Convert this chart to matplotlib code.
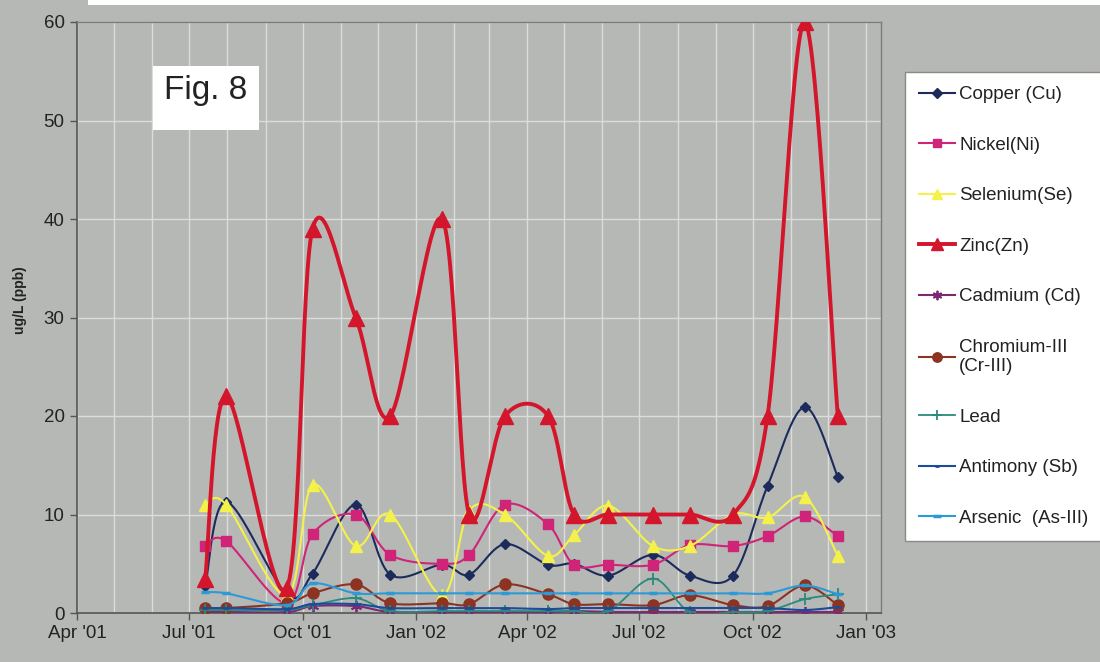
import matplotlib
matplotlib.use("Agg")
import matplotlib.pyplot as plt
import matplotlib.dates as mdates
from matplotlib.patches import Rectangle
import numpy as np
import datetime as dt

plt.rcParams['font.family'] = ['Liberation Sans', 'DejaVu Sans']

# sampling dates
sample_dates = [dt.date(2001, 7, 14), dt.date(2001, 7, 31), dt.date(2001, 9, 18),
                dt.date(2001, 10, 9), dt.date(2001, 11, 13), dt.date(2001, 12, 11),
                dt.date(2002, 1, 22), dt.date(2002, 2, 13), dt.date(2002, 3, 14),
                dt.date(2002, 4, 18), dt.date(2002, 5, 9), dt.date(2002, 6, 6),
                dt.date(2002, 7, 12), dt.date(2002, 8, 11), dt.date(2002, 9, 15),
                dt.date(2002, 10, 13), dt.date(2002, 11, 12), dt.date(2002, 12, 9)]

# concentrations, ug/L
copper = [2.7, 11.3, 1.9, 4.0, 11.0, 3.9, 4.9, 3.9, 7.0, 4.9, 5.0, 3.8, 5.9, 3.8, 3.8, 12.9, 20.9, 13.8]
nickel = [6.8, 7.3, 1.0, 8.0, 10.0, 5.9, 5.0, 5.9, 11.0, 9.0, 4.9, 4.9, 4.9, 6.9, 6.8, 7.8, 9.8, 7.8]
selenium = [11.0, 11.0, 1.8, 13.0, 6.8, 10.0, 1.8, 10.4, 10.0, 5.8, 7.9, 10.9, 6.8, 6.8, 10.0, 9.7, 11.8, 5.8]
zinc = [3.5, 22.0, 2.5, 39.0, 30.0, 20.0, 40.0, 10.0, 20.0, 20.0, 10.0, 10.0, 10.0, 10.0, 10.0, 20.0, 60.0, 20.0]
cadmium = [0.1, 0.1, 0.1, 0.7, 0.7, 0.1, 0.1, 0.1, 0.1, 0.1, 0.2, 0.1, 0.1, 0.1, 0.1, 0.1, 0.1, 0.1]
chromium = [0.5, 0.5, 1.0, 2.0, 2.9, 1.0, 1.0, 0.9, 2.9, 1.9, 0.9, 0.9, 0.8, 1.8, 0.8, 0.7, 2.8, 0.8]
lead = [0.3, 0.3, 0.3, 0.8, 1.5, 0.2, 0.2, 0.2, 0.2, 0.2, 0.2, 0.2, 3.5, 0.1, 0.1, 0.2, 1.4, 1.9]
antimony = [0.5, 0.5, 0.4, 0.9, 0.9, 0.5, 0.5, 0.5, 0.5, 0.4, 0.5, 0.5, 0.5, 0.5, 0.5, 0.5, 0.3, 0.6]
arsenic = [2.1, 2.0, 0.8, 3.0, 2.0, 2.0, 2.0, 2.0, 2.0, 2.0, 2.0, 2.0, 2.0, 2.0, 2.0, 2.0, 2.8, 1.9]

labels = ['Copper (Cu)', 'Nickel(Ni)', 'Selenium(Se)', 'Zinc(Zn)', 'Cadmium (Cd)',
          'Chromium-III\n(Cr-III)', 'Lead', 'Antimony (Sb)', 'Arsenic  (As-III)']

bg = '#b6b8b5'


def smooth(xs, ys, n=30):
    # bezier smoothing through every point, like a spreadsheet "smoothed line"
    x = np.asarray(xs, float)
    y = np.asarray(ys, float)
    px = np.concatenate([[x[0]], x, [x[-1]]])
    py = np.concatenate([[y[0]], y, [y[-1]]])
    t = np.linspace(0, 1, n)
    sx, sy = [], []
    for i in range(1, len(px) - 2):
        x0, x1, x2, x3 = px[i - 1:i + 3]
        y0, y1, y2, y3 = py[i - 1:i + 3]
        c1x, c1y = x1 + (x2 - x0) / 6, y1 + (y2 - y0) / 6
        c2x, c2y = x2 - (x3 - x1) / 6, y2 - (y3 - y1) / 6
        bx = (1 - t)**3 * x1 + 3 * (1 - t)**2 * t * c1x + 3 * (1 - t) * t**2 * c2x + t**3 * x2
        by = (1 - t)**3 * y1 + 3 * (1 - t)**2 * t * c1y + 3 * (1 - t) * t**2 * c2y + t**3 * y2
        sx.extend(bx)
        sy.extend(by)
    return np.array(sx), np.array(sy)


fig = plt.figure(figsize=(11, 6.62), dpi=100, facecolor=bg)
ax = fig.add_axes([77 / 1100, 1 - 613 / 662, 804 / 1100, 591 / 662])
ax.set_facecolor(bg)

xnum = mdates.date2num(sample_dates)

series = [
    (copper, dict(color='#1d2b5c', lw=1.5, marker='D', ms=5.5)),
    (nickel, dict(color='#cf2478', lw=1.5, marker='s', ms=7)),
    (selenium, dict(color='#f4f24a', lw=1.5, marker='^', ms=8)),
    (zinc, dict(color='#d3162c', lw=2.8, marker='^', ms=11)),
    (cadmium, dict(color='#7b2a72', lw=1.5, marker=(6, 2, 0), ms=8, mew=1.3)),
    (chromium, dict(color='#8c3322', lw=1.5, marker='o', ms=8)),
    (lead, dict(color='#2b8a7c', lw=1.3, marker='+', ms=9, mew=1.3)),
    (antimony, dict(color='#1c4b9c', lw=1.5, marker='_', ms=4, mew=2)),
    (arsenic, dict(color='#2c9ad6', lw=1.5, marker='_', ms=6, mew=2.5)),
]

handles = []
for i, (vals, st) in enumerate(series):
    sx, sy = smooth(xnum, vals)
    ax.plot(sx, sy, color=st['color'], lw=st['lw'], zorder=3 + i, solid_capstyle='round')
    ax.plot(xnum, vals, ls='none', marker=st['marker'], ms=st['ms'],
            color=st['color'], mec=st['color'], mew=st.get('mew', 1), zorder=3 + i)
    h, = ax.plot([], [], color=st['color'], lw=st['lw'], marker=st['marker'],
                 ms=st['ms'] * 0.85, mec=st['color'], mew=st.get('mew', 1))
    handles.append(h)

ax.set_xlim(dt.date(2001, 4, 1), dt.date(2003, 1, 13))
ax.set_ylim(0, 60)
ax.set_yticks(range(0, 61, 10))
ax.xaxis.set_major_locator(mdates.MonthLocator(bymonth=[1, 4, 7, 10]))
ax.xaxis.set_minor_locator(mdates.MonthLocator())
ax.xaxis.set_major_formatter(mdates.DateFormatter("%b '%y"))

ax.grid(axis='x', which='both', color='#dcdddb', lw=1.0, zorder=0)
ax.grid(axis='y', which='major', color='#dcdddb', lw=1.0, zorder=0)
ax.set_axisbelow(True)

ax.tick_params(axis='both', which='major', direction='out', length=5, width=1,
               color='#555555', labelsize=13.5, labelcolor='#222222', pad=4)
ax.tick_params(axis='x', which='minor', length=0)
for s in ['left', 'bottom']:
    ax.spines[s].set_color('#555555')
    ax.spines[s].set_linewidth(1.2)
for s in ['top', 'right']:
    ax.spines[s].set_color('#7c7d7b')
    ax.spines[s].set_linewidth(1.0)

ax.set_ylabel('ug/L (ppb)', fontsize=10, fontweight='bold', color='#222222')
ax.yaxis.set_label_coords(-0.062, 0.53)

leg = fig.legend(handles, labels, loc='upper left',
                 bbox_to_anchor=(905 / 1100, 1 - 72 / 662),
                 fontsize=13.5, labelspacing=1.78, handlelength=1.9,
                 handletextpad=0.25, borderpad=0.75, borderaxespad=0,
                 fancybox=False, framealpha=1, numpoints=1)
leg.get_frame().set_facecolor('white')
leg.get_frame().set_edgecolor('#8a8a8a')
for t in leg.get_texts():
    t.set_color('#222222')

# figure label box
fig.patches.append(Rectangle((153 / 1100, 1 - 130 / 662), 106 / 1100, 64 / 662,
                             transform=fig.transFigure, facecolor='white',
                             edgecolor='none', zorder=20))
fig.text(206 / 1100, 1 - 99 / 662, 'Fig. 8', fontsize=24, color='#222222',
         ha='center', va='baseline', zorder=21)

# paper strip along the top edge
fig.patches.append(Rectangle((88 / 1100, 1 - 5 / 662), 1012 / 1100, 5 / 662,
                             transform=fig.transFigure, facecolor='white',
                             edgecolor='none', zorder=20))

fig.savefig('out.png', dpi=100, facecolor=bg)
